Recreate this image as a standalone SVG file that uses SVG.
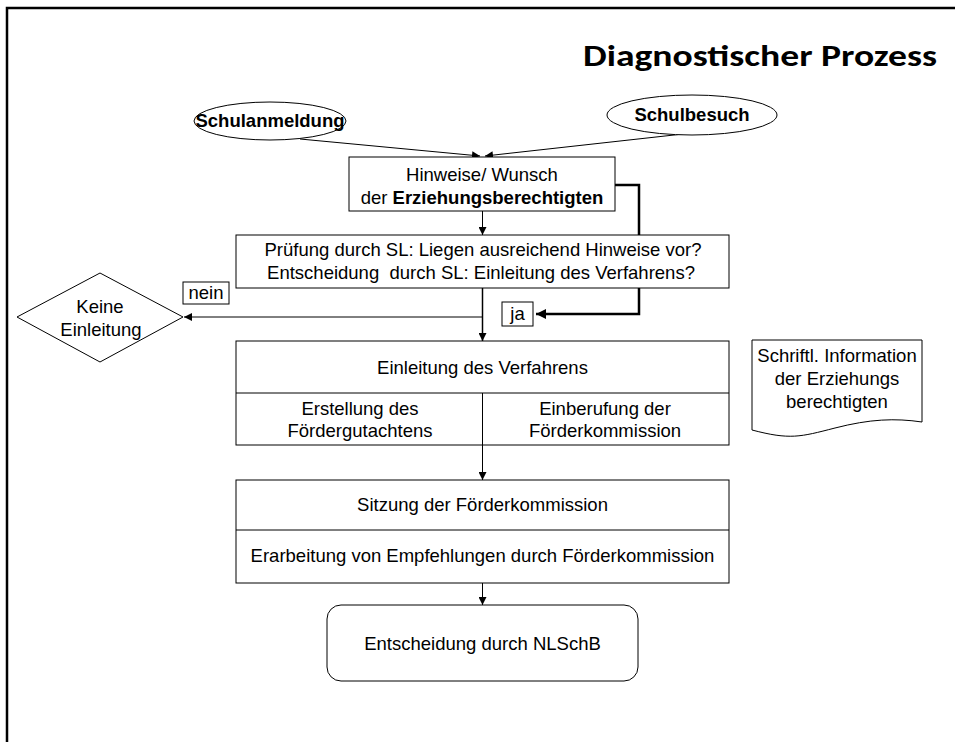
<svg xmlns="http://www.w3.org/2000/svg" width="955" height="742" viewBox="0 0 955 742">
<defs>
<marker id="ah" viewBox="0 0 10 10" refX="10" refY="5" markerWidth="8" markerHeight="8" markerUnits="userSpaceOnUse" orient="auto">
<path d="M0,0 L10,5 L0,10 Z" fill="#000"/>
</marker>
<marker id="ahb" viewBox="0 0 10 10" refX="10" refY="5" markerWidth="4" markerHeight="4" markerUnits="strokeWidth" orient="auto">
<path d="M0,0 L10,5 L0,10 Z" fill="#000"/>
</marker>
</defs>
<style>
.box{fill:#fff;stroke:#000;stroke-width:1}
.t{font-family:"Liberation Sans",Arial,sans-serif;font-size:18.5px;fill:#000;text-anchor:middle}
.b{font-weight:bold}
.c{fill:none;stroke:#000;stroke-width:1}
.thick{fill:none;stroke:#000;stroke-width:2.5}
</style>
<rect x="0" y="0" width="955" height="742" fill="#fff"/>
<path d="M7,742 V8 H955" fill="none" stroke="#000" stroke-width="2.5"/>
<text x="937" y="66" font-family="Carlito,'Open Sans',sans-serif" font-weight="bold" font-size="30" text-anchor="end" textLength="354" lengthAdjust="spacingAndGlyphs">Diagnostischer Prozess</text>

<g id="connectors">
<line class="c" x1="300" y1="139" x2="480" y2="156" marker-end="url(#ah)"/>
<line class="c" x1="683" y1="134" x2="485" y2="156" marker-end="url(#ah)"/>
<line class="c" x1="482.5" y1="211" x2="482.5" y2="235" marker-end="url(#ah)"/>
<path class="thick" d="M615,185 H639 V314 H536" marker-end="url(#ahb)"/>
<line x1="482.5" y1="288" x2="482.5" y2="341" stroke="#000" stroke-width="1.5" marker-end="url(#ah)"/>
<line class="c" x1="482.5" y1="317" x2="184" y2="317" marker-end="url(#ah)"/>
<line class="c" x1="482.5" y1="445" x2="482.5" y2="480" marker-end="url(#ah)"/>
<line class="c" x1="482.5" y1="583" x2="482.5" y2="605" marker-end="url(#ah)"/>
</g>

<g id="schulanmeldung">
<ellipse class="box" cx="270" cy="121" rx="76" ry="19"/>
<text class="t b" x="270" y="127" font-size="16.3">Schulanmeldung</text>
</g>
<g id="schulbesuch">
<ellipse class="box" cx="692" cy="115" rx="85" ry="20"/>
<text class="t b" x="692" y="121" font-size="16.5">Schulbesuch</text>
</g>
<g id="hinweise">
<rect class="box" x="349" y="157" width="266" height="54"/>
<text class="t" x="482" y="181" font-size="18.7">Hinweise/ Wunsch</text>
<text class="t" x="482" y="204" font-size="18.7">der <tspan class="b">Erziehungsberechtigten</tspan></text>
</g>
<g id="pruefung">
<rect class="box" x="236" y="235" width="493" height="53"/>
<text class="t" x="483" y="256" font-size="18.7">Prüfung durch SL: Liegen ausreichend Hinweise vor?</text>
<text class="t" x="481" y="279" font-size="18.7" xml:space="preserve">Entscheidung  durch SL: Einleitung des Verfahrens?</text>
</g>
<g id="nein">
<rect class="box" x="183" y="282" width="46" height="22"/>
<text class="t" x="206" y="299">nein</text>
</g>
<g id="ja">
<rect class="box" x="502" y="302" width="31" height="24"/>
<text class="t" x="517.5" y="320">ja</text>
</g>
<g id="keine-einleitung">
<polygon class="box" points="17,317 100,273 183,317 100,362"/>
<text class="t" x="100" y="313">Keine</text>
<text class="t" x="101" y="336">Einleitung</text>
</g>
<g id="einleitung">
<rect class="box" x="236" y="341" width="493" height="104"/>
<line class="c" x1="236" y1="393" x2="729" y2="393"/>
<line class="c" x1="482.5" y1="393" x2="482.5" y2="445"/>
<text class="t" x="482.5" y="374" font-size="21">Einleitung des Verfahrens</text>
<text class="t" x="360" y="415">Erstellung des</text>
<text class="t" x="360" y="437">Fördergutachtens</text>
<text class="t" x="605" y="415">Einberufung der</text>
<text class="t" x="605" y="437">Förderkommission</text>
</g>
<g id="dokument">
<path class="box" d="M752,340 H922 V422 C895,418 870,419 835,428 C800,437 790,440 752,430 Z"/>
<text class="t" x="837" y="362">Schriftl. Information</text>
<text class="t" x="837" y="385">der Erziehungs</text>
<text class="t" x="837" y="408">berechtigten</text>
</g>
<g id="sitzung">
<rect class="box" x="236" y="480" width="493" height="103"/>
<line class="c" x1="236" y1="530" x2="729" y2="530"/>
<text class="t" x="482.5" y="511">Sitzung der Förderkommission</text>
<text class="t" x="482.5" y="562">Erarbeitung von Empfehlungen durch Förderkommission</text>
</g>
<g id="entscheidung">
<rect class="box" x="327" y="605" width="311" height="76" rx="14" ry="14"/>
<text class="t" x="482.5" y="650">Entscheidung durch NLSchB</text>
</g>
</svg>
